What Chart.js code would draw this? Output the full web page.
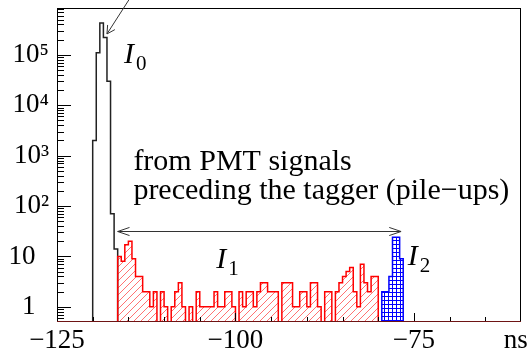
<!DOCTYPE html>
<html>
<head>
<meta charset="utf-8">
<script src="https://cdn.jsdelivr.net/npm/chart.js@4.4.0/dist/chart.umd.min.js"></script>
<style>
  html, body { margin: 0; padding: 0; background: #fff; }
</style>
</head>
<body>
<canvas id="timing" width="528" height="360"></canvas>
<script>
// all histograms use 0.5 ns bins, counts
const binWidth = 0.5;

// full spectrum around the prompt peak (I0)
const peakStart = -120;
const peakCounts = [2000, 110000, 430000, 220000, 30000, 70, 14];

// pile-ups preceding the tagger (I1)
const pileStart = -116.5;
const pileCounts = [10, 8, 17, 20, 9, 4, 4, 2, 2, 1,
  2, 0, 2, 1, 0, 1, 2, 3, 1, 0,
  1, 0, 2, 1, 1, 1, 1, 2, 1, 1,
  2, 2, 1, 0, 2, 1, 2, 2, 1, 2,
  3, 3, 2, 2, 2, 0, 3, 3, 3, 1,
  1, 2, 2, 1, 3, 3, 1, 0, 2, 2,
  0, 2, 3, 4, 5, 6, 2, 1, 7, 3,
  2, 4, 4, 0];

// I2 window
const tagStart = -79.5;
const tagCounts = [2, 2, 4, 24, 24, 9];

const xTicks = [-125, -100, -75];
const yTicks = [1, 10, 100, 1000, 10000, 100000];
const yLabels = ['1\u2002', '10\u2002', '10²', '10³', '10⁴', '10⁵'];

const serif = '"Liberation Serif", serif';
// empty bins can't sit on a log axis, park them below the visible range
const emptyLevel = 0.1;

// histogram -> points for a stepped line closed down to the baseline
function steps(start, counts) {
  const pts = [{ x: start, y: emptyLevel }];
  counts.forEach((c, i) => pts.push({ x: start + i * binWidth, y: c > 0 ? c : emptyLevel }));
  pts.push({ x: start + counts.length * binWidth, y: emptyLevel });
  return pts;
}

function hatch(color) {
  const c = document.createElement('canvas');
  c.width = c.height = 7;
  const g = c.getContext('2d');
  g.strokeStyle = color;
  g.lineWidth = 1;
  g.beginPath();
  g.moveTo(0, 7); g.lineTo(7, 0);
  g.moveTo(-1, 1); g.lineTo(1, -1);
  g.moveTo(6, 8); g.lineTo(8, 6);
  g.stroke();
  return g.createPattern(c, 'repeat');
}

function grid(color) {
  const c = document.createElement('canvas');
  c.width = c.height = 4;
  const g = c.getContext('2d');
  g.fillStyle = color;
  g.fillRect(0, 0, 4, 1);
  g.fillRect(0, 0, 1, 4);
  return g.createPattern(c, 'repeat');
}

function arrowHead(ctx, tx, ty, fx, fy, len, ang) {
  const a = Math.atan2(fy - ty, fx - tx);
  ctx.moveTo(tx + len * Math.cos(a + ang), ty + len * Math.sin(a + ang));
  ctx.lineTo(tx, ty);
  ctx.lineTo(tx + len * Math.cos(a - ang), ty + len * Math.sin(a - ang));
}

// frame, inward ticks and the text labels on the pad
const decor = {
  id: 'decor',
  afterDatasetsDraw(chart) {
    const { ctx, chartArea: a, scales: { x, y } } = chart;
    ctx.save();
    ctx.lineWidth = 1;

    // ticks
    ctx.strokeStyle = '#000';
    ctx.beginPath();
    for (let e = -1; e <= 5; e++) {
      for (let m = 1; m <= 9; m++) {
        const v = m * Math.pow(10, e);
        if (v <= y.min || v >= y.max) continue;
        const py = Math.round(y.getPixelForValue(v)) + 0.5;
        ctx.moveTo(a.left, py);
        ctx.lineTo(a.left + (m === 1 ? 14 : 7), py);
      }
    }
    for (let v = -120; v < x.max; v += 5) {
      const px = Math.round(x.getPixelForValue(v)) + 0.5;
      ctx.moveTo(px, a.bottom);
      ctx.lineTo(px, a.bottom - (v % 25 === 0 ? 9 : 5));
    }
    ctx.stroke();

    // frame
    ctx.strokeStyle = '#000';
    ctx.strokeRect(a.left + 0.5, a.top + 0.5, a.width - 1, a.height - 1);
    ctx.strokeStyle = '#6e1414';
    ctx.beginPath();
    ctx.moveTo(a.left, a.bottom - 0.5);
    ctx.lineTo(a.right, a.bottom - 0.5);
    ctx.stroke();

    // arrows
    ctx.strokeStyle = '#333';
    ctx.beginPath();
    const ay = Math.round(y.getPixelForValue(32)) + 0.5;
    const ax0 = x.getPixelForValue(-116.5), ax1 = x.getPixelForValue(-76.8);
    ctx.moveTo(ax0, ay); ctx.lineTo(ax1, ay);
    arrowHead(ctx, ax0, ay, ax1, ay, 12.5, 0.33);
    arrowHead(ctx, ax1, ay, ax0, ay, 12.5, 0.33);
    const tx = x.getPixelForValue(-118), ty = y.getPixelForValue(2.6e5);
    ctx.moveTo(tx, ty); ctx.lineTo(tx + 27, ty - 42);
    arrowHead(ctx, tx, ty, tx + 27, ty - 42, 9, 0.5);
    ctx.stroke();

    // text
    ctx.fillStyle = '#000';
    ctx.textAlign = 'left';
    ctx.textBaseline = 'alphabetic';
    ctx.font = '30px ' + serif;
    ctx.fillText('from PMT signals', x.getPixelForValue(-114.3), y.getPixelForValue(518));
    ctx.fillText('preceding the tagger (pile\u2212ups)', x.getPixelForValue(-114.3), y.getPixelForValue(138));

    const label = (xv, yv, sub) => {
      const px = x.getPixelForValue(xv), py = y.getPixelForValue(yv);
      ctx.font = 'italic 30px ' + serif;
      ctx.fillText('I', px, py);
      const w = ctx.measureText('I').width;
      ctx.font = '21px ' + serif;
      ctx.fillText(sub, px + w + 2, py + 7);
    };
    label(-115.6, 6.9e4, '0');
    label(-102.7, 5.9, '1');
    label(-75.85, 6.7, '2');

    ctx.font = '27px ' + serif;
    ctx.textBaseline = 'middle';
    ctx.fillText('ns', x.getPixelForValue(-62.4), a.bottom + 3 + 16.2);
    ctx.restore();
  }
};

new Chart(document.getElementById('timing'), {
  type: 'line',
  data: {
    datasets: [
      {
        label: 'I1',
        data: steps(pileStart, pileCounts),
        borderColor: '#ff0000',
        borderWidth: 1.5,
        backgroundColor: hatch('rgba(255,0,0,0.55)'),
        fill: 'start',
        stepped: true
      },
      {
        label: 'I2',
        data: steps(tagStart, tagCounts),
        borderColor: '#0000ff',
        borderWidth: 1.5,
        backgroundColor: grid('#0000ff'),
        fill: 'start',
        stepped: true
      },
      {
        label: 'all',
        data: steps(peakStart, peakCounts),
        borderColor: '#222',
        borderWidth: 1.5,
        fill: false,
        stepped: true
      }
    ]
  },
  options: {
    responsive: false,
    animation: false,
    events: [],
    layout: { padding: { top: 8, right: 7, left: 0, bottom: 0 } },
    elements: { point: { radius: 0 } },
    plugins: { legend: { display: false }, tooltip: { enabled: false } },
    scales: {
      x: {
        type: 'linear',
        min: -125,
        max: -60,
        afterBuildTicks: s => { s.ticks = xTicks.map(v => ({ value: v })); },
        afterFit: s => { s.height = 38; s.paddingLeft = 0; s.paddingRight = 0; },
        grid: { display: false, drawTicks: false },
        border: { display: false },
        ticks: {
          autoSkip: false,
          maxRotation: 0,
          padding: 3,
          color: '#000',
          font: { family: serif, size: 27 },
          callback: v => (v < 0 ? '\u2212' + Math.abs(v) : String(v))
        }
      },
      y: {
        type: 'logarithmic',
        min: 0.5,
        max: 8.5e5,
        bounds: 'data',
        afterBuildTicks: s => { s.ticks = yTicks.map(v => ({ value: v })); },
        afterFit: s => { s.width = 57; s.paddingTop = 0; s.paddingBottom = 0; },
        grid: { display: false, drawTicks: false },
        border: { display: false },
        ticks: {
          autoSkip: false,
          padding: 8,
          color: '#000',
          font: { family: serif, size: 27 },
          callback: (v, i) => yLabels[i]
        }
      }
    }
  },
  plugins: [decor]
});
</script>
</body>
</html>
